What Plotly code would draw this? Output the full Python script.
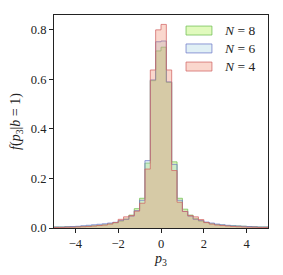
import numpy as np
import plotly.graph_objects as go

# bin edges: 40 bins of width 0.25 over [-5, 5]
bin_edges = np.linspace(-5, 5, 41)

labels = ["<i>N</i> = 8", "<i>N</i> = 6", "<i>N</i> = 4"]

dens_n8 = [0.004, 0.004, 0.005, 0.005, 0.006, 0.007, 0.008, 0.009, 0.011, 0.013,
           0.017, 0.021, 0.028, 0.036, 0.052, 0.078, 0.120, 0.262, 0.595, 0.715,
           0.730, 0.588, 0.267, 0.120, 0.076, 0.052, 0.037, 0.028, 0.022, 0.017,
           0.014, 0.012, 0.010, 0.009, 0.008, 0.007, 0.006, 0.005, 0.004, 0.004]
dens_n6 = [0.004, 0.004, 0.005, 0.006, 0.007, 0.009, 0.011, 0.013, 0.015, 0.017,
           0.020, 0.023, 0.030, 0.035, 0.048, 0.070, 0.112, 0.272, 0.598, 0.752,
           0.755, 0.590, 0.257, 0.112, 0.067, 0.048, 0.035, 0.030, 0.024, 0.020,
           0.016, 0.013, 0.011, 0.009, 0.008, 0.007, 0.006, 0.005, 0.004, 0.004]
dens_n4 = [0.002, 0.002, 0.003, 0.003, 0.004, 0.005, 0.006, 0.008, 0.010, 0.012,
           0.016, 0.022, 0.035, 0.045, 0.050, 0.068, 0.100, 0.238, 0.638, 0.800,
           0.822, 0.638, 0.232, 0.104, 0.067, 0.050, 0.045, 0.034, 0.022, 0.016,
           0.012, 0.010, 0.008, 0.006, 0.005, 0.004, 0.003, 0.003, 0.002, 0.002]

series = [dens_n8, dens_n6, dens_n4]
fills = ["rgba(155,238,38,0.30)", "rgba(155,205,222,0.30)", "rgba(238,122,88,0.30)"]
edges = ["rgba(110,190,80,0.75)", "rgba(110,120,200,0.75)", "rgba(210,100,100,0.75)"]

font = "Liberation Serif"
fig = go.Figure()
for lab, vals, fc, ec in zip(labels, series, fills, edges):
    y = list(vals) + [vals[-1]]
    fig.add_trace(go.Scatter(
        x=bin_edges, y=y, mode="lines", line=dict(shape="hv", color=ec, width=1),
        fill="tozeroy", fillcolor=fc, name=lab, showlegend=False,
    ))

# legend drawn as rectangular patches (matplotlib style)
shapes = []
annotations = []
patch_y = [(0.906, 0.948), (0.822, 0.864), (0.737, 0.779)]
for (y0, y1), lab, fc, ec in zip(patch_y, labels, fills, edges):
    shapes.append(dict(type="rect", xref="paper", yref="paper",
                       x0=0.617, x1=0.738, y0=y0, y1=y1,
                       fillcolor=fc, line=dict(color=ec, width=1)))
    annotations.append(dict(xref="paper", yref="paper", x=0.785, y=(y0 + y1) / 2,
                            xanchor="left", yanchor="middle", text=lab,
                            showarrow=False, font=dict(size=13.5, family=font, color="#222")))

fig.update_layout(
    width=283, height=275,
    margin=dict(l=54, r=15, t=15, b=47),
    paper_bgcolor="white", plot_bgcolor="white",
    font=dict(family=font, size=12.5, color="#222"),
    showlegend=False,
    shapes=shapes, annotations=annotations,
)
fig.update_xaxes(
    range=[-5, 5], tickvals=[-4, -2, 0, 2, 4], ticks="outside", ticklen=4,
    tickcolor="#222", showline=True, linecolor="#222", linewidth=1.2, mirror=True,
    showgrid=False, zeroline=False, tickfont=dict(family=font, size=12.5),
    title=dict(text="<i>p</i><sub>3</sub>", standoff=2, font=dict(size=14)),
)
fig.update_yaxes(
    range=[0, 0.86], tickvals=[0, 0.2, 0.4, 0.6, 0.8], tickformat=".1f",
    ticks="outside", ticklen=4, tickcolor="#222",
    showline=True, linecolor="#222", linewidth=1.2, mirror=True,
    showgrid=False, zeroline=False, tickfont=dict(family=font, size=12.5),
    title=dict(text="<i>f</i>(<i>p</i><sub>3</sub>|<i>b</i> = 1)", standoff=6, font=dict(size=14)),
)
fig.write_html("out.html", config={"displayModeBar": False},
               post_script="document.body.style.margin='0';document.body.style.padding='0';")
